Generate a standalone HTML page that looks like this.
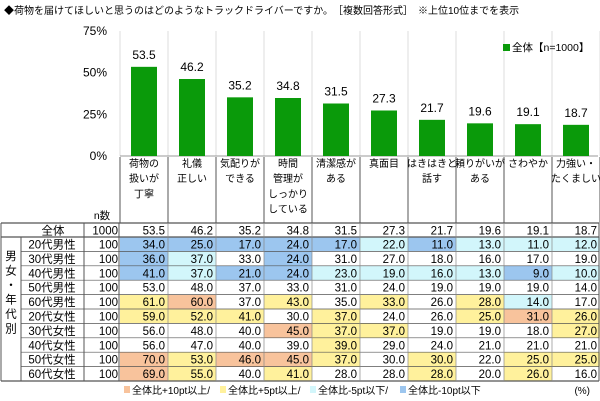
<!DOCTYPE html>
<html><head><meta charset="utf-8">
<style>
html,body{margin:0;padding:0;background:#fff;}
svg{display:block;font-family:"Liberation Sans","Noto Sans CJK JP",sans-serif;}
</style></head>
<body>
<svg id="c" width="600" height="401" viewBox="0 0 600 401"></svg>
<script>
const categories=[["荷物の","扱いが","丁寧"],["礼儀","正しい"],["気配りが","できる"],["時間","管理が","しっかり","している"],["清潔感が","ある"],["真面目"],["はきはきと","話す"],["頼りがいが","ある"],["さわやか"],["力強い・","たくましい"]];
const totalValues=[53.5,46.2,35.2,34.8,31.5,27.3,21.7,19.6,19.1,18.7];
const yTicks=[0,25,50,75];
const rowLabels=["20代男性","30代男性","40代男性","50代男性","60代男性","20代女性","30代女性","40代女性","50代女性","60代女性"];
const rowN=[100,100,100,100,100,100,100,100,100,100];
const r20m=[34,25,17,24,17,22,11,13,11,12];
const r30m=[36,37,33,24,31,27,18,16,17,19];
const r40m=[41,37,21,24,23,19,16,13,9,10];
const r50m=[53,48,37,33,31,24,19,19,19,14];
const r60m=[61,60,37,43,35,33,26,28,14,17];
const r20f=[59,52,41,30,37,24,26,25,31,26];
const r30f=[56,48,40,45,37,37,19,19,18,27];
const r40f=[56,47,40,39,39,29,24,21,21,21];
const r50f=[70,53,46,45,37,30,30,22,25,25];
const r60f=[69,55,40,41,28,28,28,20,26,16];
const rows=[r20m,r30m,r40m,r50m,r60m,r20f,r30f,r40f,r50f,r60f];

const svg=document.getElementById('c');
const NS='http://www.w3.org/2000/svg';
function mk(tag,attrs,parent){const e=document.createElementNS(NS,tag);for(const k in attrs)e.setAttribute(k,attrs[k]);(parent||svg).appendChild(e);return e;}
function tx(x,y,s,size,anchor,parent){const t=mk('text',{x:x,y:y,'font-size':size,'text-anchor':anchor||'middle',fill:'#000'},parent);t.textContent=s;return t;}

const X0=120,CW=48,Y0=156,YTOP=31;
const xC=i=>X0+CW*i+CW/2;
const yS=v=>Y0-(v/75)*(Y0-YTOP);

let t=tx(4,14,"◆荷物を届けてほしいと思うのはどのようなトラックドライバーですか。　［複数回答形式］　※上位10位までを表示",10,'start');



for(let i=0;i<=10;i++){const l=mk('line',{x1:X0+CW*i,y1:YTOP,x2:X0+CW*i,y2:Y0,stroke:'#ddd','stroke-width':1});

}
mk('line',{x1:X0,y1:Y0,x2:598,y2:Y0,stroke:'#999','stroke-width':1});
yTicks.forEach(v=>{const e=tx(107,yS(v)+4,v+"%",12,'end');

});

totalValues.forEach((v,i)=>{
 const b=mk('rect',{x:xC(i)-13,y:yS(v),width:26,height:Y0-yS(v),fill:'#0a9a0a'});
 
 
 const l=tx(xC(i),yS(v)-8,v.toFixed(1),12);
 
 
});
const lg=mk('rect',{x:503,y:44,width:7,height:7,fill:'#0a9a0a'});


const lt=tx(512,51,"全体【n=1000】",10.5,'start');



const HT=157,TT=223,TR=237,RH=14.4;
for(let i=0;i<=10;i++){mk('line',{x1:X0+CW*i,y1:HT,x2:X0+CW*i,y2:TT,stroke:'#555','stroke-width':1});}
categories.forEach((c,i)=>{c.forEach((s,k)=>{const e=tx(xC(i),167+k*15.2,s,10);

});});
tx(102,219,"n数",10.5);

function cellColor(v,base){const d=v-base;if(d>=10)return'#f8c39c';if(d>=5)return'#fff19c';if(d<=-10)return'#9cc6ef';if(d<=-5)return'#d2f6fb';return'#fff';}
tx(53,234.5,"全体",11.5);tx(118,234.5,"1000",11.5,'end');
totalValues.forEach((v,i)=>tx(X0+CW*(i+1)-3,234.5,v.toFixed(1),11.5,'end'));
rows.forEach((r,ri)=>{
 const y=TR+ri*RH;
 r.forEach((v,i)=>{
  const c=mk('rect',{x:X0+CW*i,y:y,width:CW,height:RH,fill:cellColor(v,totalValues[i])});
  
  
  tx(X0+CW*(i+1)-3,y+11.5,v.toFixed(1),11.5,'end');
 });
 const rl=tx(52,y+11.5,rowLabels[ri],11.5);
 
 
 tx(118,y+11.5,rowN[ri],11.5,'end');
});
const BOT=TR+10*RH;
for(let ri=0;ri<=10;ri++){const y=TR+ri*RH;mk('line',{x1:ri==0||ri==10?1:21,y1:y,x2:599,y2:y,stroke:'#555','stroke-width':ri==0||ri==10?1.2:0.7});}
mk('line',{x1:1,y1:TT,x2:599,y2:TT,stroke:'#555','stroke-width':1.2});
mk('line',{x1:21,y1:TR,x2:21,y2:BOT,stroke:'#555','stroke-width':1});
[1,84,119,599].forEach(x=>mk('line',{x1:x,y1:TT,x2:x,y2:BOT,stroke:'#555','stroke-width':1}));
for(let i=1;i<10;i++)mk('line',{x1:X0+CW*i,y1:TT,x2:X0+CW*i,y2:BOT,stroke:'#888','stroke-width':0.7});
["男","女","・","年","代","別"].forEach((s,k)=>tx(11,260+k*14.5,s,11.5));

const leg=[["#f8c39c","全体比+10pt以上/"],["#fff19c","全体比+5pt以上/"],["#d2f6fb","全体比-5pt以下/"],["#9cc6ef","全体比-10pt以下"]];
let lx=124;
leg.forEach(([c,s],i)=>{mk('rect',{x:lx,y:386,width:6,height:7,fill:c});
 const e=tx(lx+8,394,s,10,'start');
 
 
 lx+=[96,90,90,0][i];});
tx(590,394,"(%)",10,'end');
</script>
</body></html>
